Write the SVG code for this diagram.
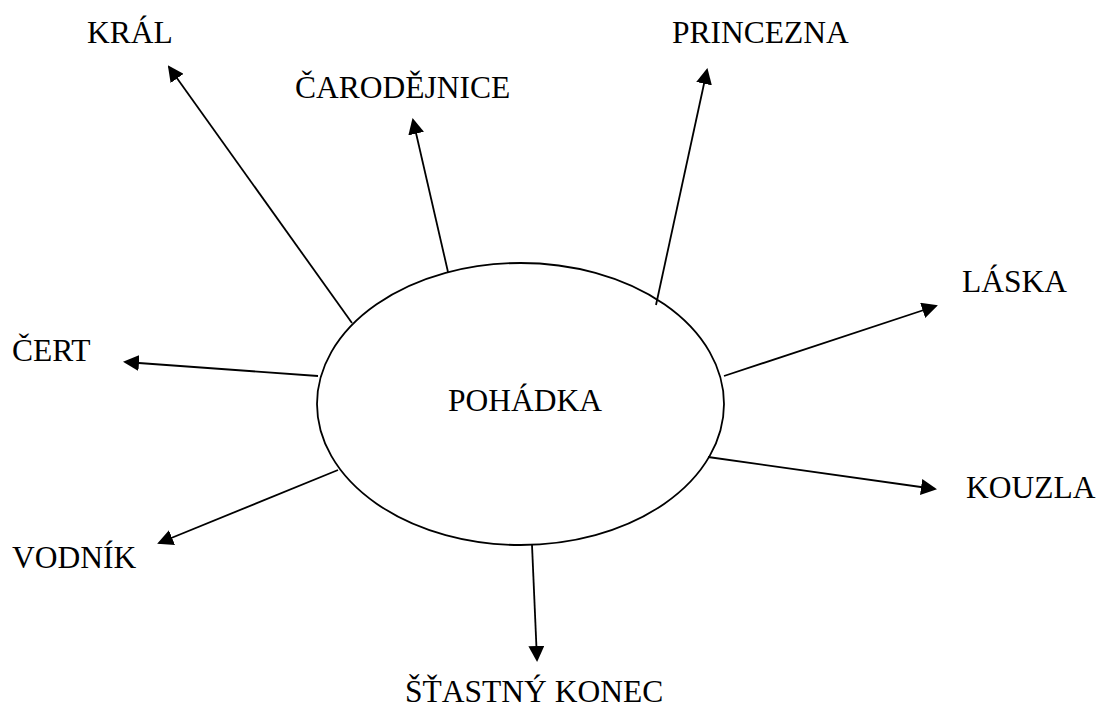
<svg xmlns="http://www.w3.org/2000/svg" width="1098" height="708" viewBox="0 0 1098 708">
<style>
.lbl{font-family:"Liberation Serif","Times New Roman",serif;font-size:31.5px;fill:#000}
.conn line{stroke:#000;stroke-width:1.8;marker-end:url(#ah)}
</style>
<defs>
<marker id="ah" markerUnits="userSpaceOnUse" viewBox="0 0 16 16" refX="14" refY="8" markerWidth="16" markerHeight="16" orient="auto">
<path d="M0,0 L16,8 L0,16 z" fill="#000"/>
</marker>
</defs>
<rect width="1098" height="708" fill="#fff"/>
<g id="connectors" class="conn">
<line x1="352" y1="323" x2="169" y2="67"/>
<line x1="448" y1="272" x2="413" y2="120"/>
<line x1="656" y1="305" x2="707" y2="70"/>
<line x1="724" y1="376" x2="936" y2="306"/>
<line x1="708" y1="457" x2="935" y2="489"/>
<line x1="532" y1="545" x2="537" y2="660"/>
<line x1="338" y1="470" x2="159" y2="543"/>
<line x1="318" y1="376" x2="125" y2="362"/>
</g>
<g id="pohadka">
<ellipse cx="520.5" cy="404" rx="203.5" ry="141" fill="none" stroke="#000" stroke-width="1.8"/>
<text class="lbl" x="448" y="411">POHÁDKA</text>
</g>
<g id="kral"><text class="lbl" x="87" y="43">KRÁL</text></g>
<g id="carodejnice"><text class="lbl" x="295" y="98">ČARODĚJNICE</text></g>
<g id="princezna"><text class="lbl" x="672" y="43">PRINCEZNA</text></g>
<g id="laska"><text class="lbl" x="962" y="292">LÁSKA</text></g>
<g id="cert"><text class="lbl" x="12" y="361">ČERT</text></g>
<g id="kouzla"><text class="lbl" x="966" y="498">KOUZLA</text></g>
<g id="vodnik"><text class="lbl" x="12" y="568">VODNÍK</text></g>
<g id="stastny-konec"><text class="lbl" x="405" y="702">ŠŤASTNÝ KONEC</text></g>
</svg>
